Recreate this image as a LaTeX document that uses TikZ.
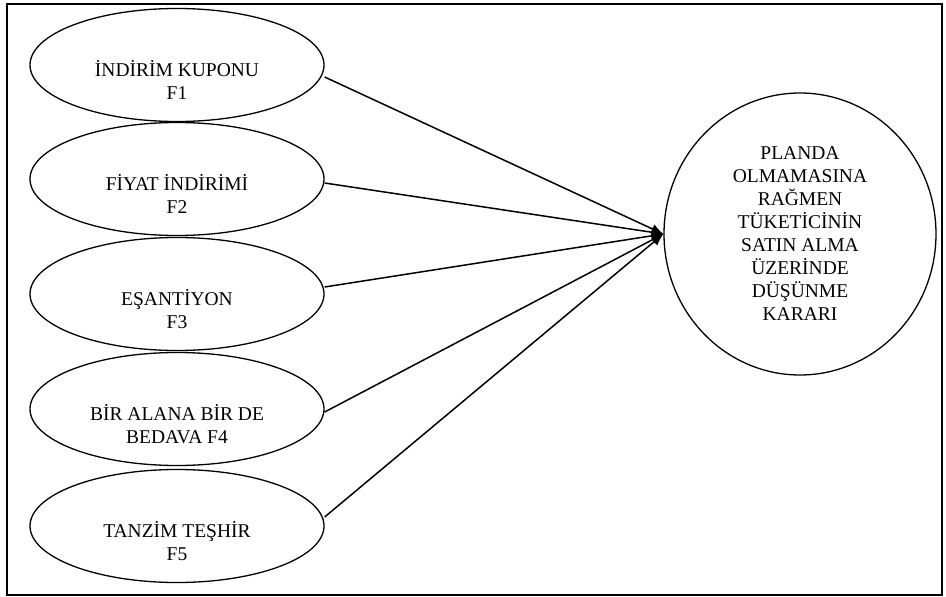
\documentclass[tikz,border=0pt]{standalone}
\usepackage{fontspec}
\setmainfont{Liberation Serif}
\usetikzlibrary{shapes.geometric,arrows.meta}
\begin{document}
\begin{tikzpicture}[x=1pt,y=-1pt,
  every node/.style={font=\fontsize{19.5}{23}\selectfont},
  factor/.style={draw,line width=1.3pt,ellipse,minimum width=294pt,minimum height=113pt,inner sep=0pt},
  flabel/.style={align=center,inner sep=0pt},
  target/.style={draw,line width=1.3pt,ellipse,minimum width=272pt,minimum height=282pt,inner sep=0pt,align=center},
  conn/.style={line width=1.5pt,-{Latex[length=12pt,width=10pt]}}]
\useasboundingbox (0,0) rectangle (946,597);
\draw[line width=1.4pt] (7,4) rectangle (942,595);
\node[factor] (e1) at (177,65) {};
\node[factor] (e2) at (177,179) {};
\node[factor] (e3) at (177,294) {};
\node[factor] (e4) at (177,409) {};
\node[factor] (e5) at (177,526) {};
\node[flabel] (t1) at (177,80) {İNDİRİM KUPONU\\F1};
\node[flabel] (t2) at (177,194) {FİYAT İNDİRİMİ\\F2};
\node[flabel] (t3) at (177,309) {EŞANTİYON\\F3};
\node[flabel] (t4) at (177,424) {BİR ALANA BİR DE\\BEDAVA F4};
\node[flabel] (t5) at (177,541) {TANZİM TEŞHİR\\F5};
\node[target] (c) at (800,234) {PLANDA\\OLMAMASINA\\RAĞMEN\\TÜKETİCİNİN\\SATIN ALMA\\ÜZERİNDE\\DÜŞÜNME\\KARARI};
\draw[conn] ([yshift=-12pt]e1.east) -- (c.west);
\draw[conn] ([yshift=-4pt]e2.east) -- (c.west);
\draw[conn] ([yshift=7pt]e3.east) -- (c.west);
\draw[conn] ([yshift=-3pt]e4.east) -- (c.west);
\draw[conn] ([yshift=9pt]e5.east) -- (c.west);
\end{tikzpicture}
\end{document}
